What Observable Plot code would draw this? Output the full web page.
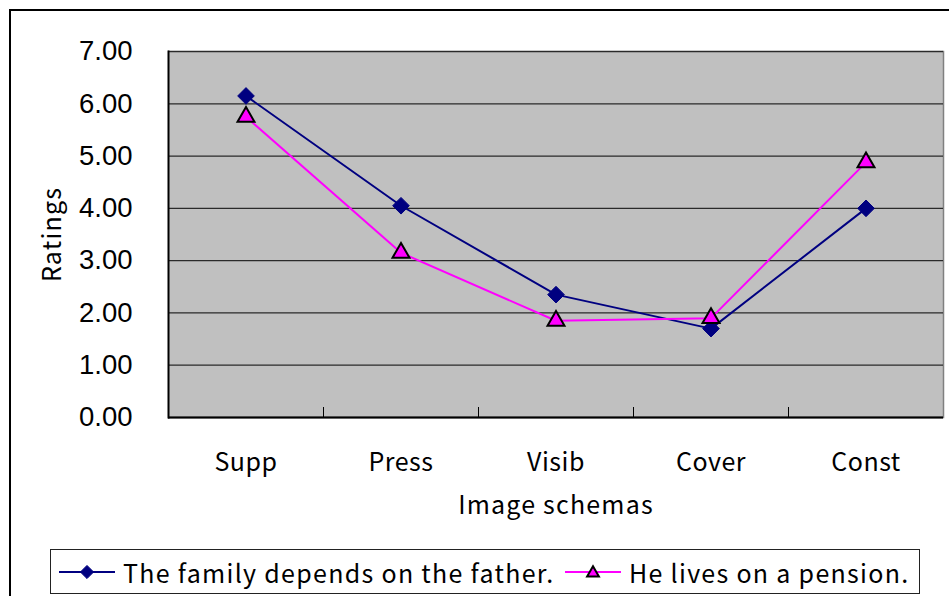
<!DOCTYPE html>
<html>
<head>
<meta charset="utf-8">
<script src="https://cdn.jsdelivr.net/npm/d3@7"></script>
<script src="https://cdn.jsdelivr.net/npm/@observablehq/plot@0.6"></script>
<style>
  html, body { margin: 0; padding: 0; background: #fff; overflow: hidden; }
  #wrap { position: relative; width: 949px; height: 596px; overflow: hidden; }
  #border { position: absolute; left: 9px; top: 9px; width: 1000px; height: 700px; border: 2px solid #000; box-sizing: border-box; }
  #chart { position: absolute; left: 0; top: 0; }
  #legend { position: absolute; left: 50px; top: 549px; width: 870px; height: 45px; border: 1px solid #222; box-sizing: border-box; background: #fff;
            font-family: "Noto Sans CJK JP", sans-serif; font-size: 25px; letter-spacing: 1.3px; color: #000; }
  .item { position: absolute; top: 0; height: 43px; display: flex; align-items: center; white-space: nowrap; }
  .item svg { margin-right: 8px; }
  #chart g[aria-label="x-axis label"] text, #chart g[aria-label="y-axis label"] text { letter-spacing: 1.2px; }
  .cjk text { letter-spacing: 0.5px; }
</style>
</head>
<body>
<div id="wrap">
  <div id="border"></div>
  <div id="chart"></div>
  <div id="legend"></div>
</div>
<script>
const categories = ["Supp", "Press", "Visib", "Cover", "Const"];
const seriesNames = ["The family depends on the father.", "He lives on a pension."];
const familyValues = [6.15, 4.05, 2.35, 1.70, 4.00];
const pensionValues = [5.75, 3.15, 1.85, 1.90, 4.88];
const yTicks = [0, 1, 2, 3, 4, 5, 6, 7];
const xTitle = "Image schemas";
const yTitle = "Ratings";

const colors = ["#000080", "#FF00FF"];

const rows = [];
categories.forEach((c, i) => {
  rows.push({cat: c, idx: i + 0.5, value: familyValues[i], series: seriesNames[0]});
  rows.push({cat: c, idx: i + 0.5, value: pensionValues[i], series: seriesNames[1]});
});
const fam = rows.filter(d => d.series === seriesNames[0]);
const pen = rows.filter(d => d.series === seriesNames[1]);
const boundaries = categories.slice(1).map((c, i) => i + 1);
const centers = categories.map((c, i) => i + 0.5);

const cjk = "'Noto Sans CJK JP', sans-serif";

const plot = Plot.plot({
  width: 949,
  height: 530,
  marginLeft: 168,
  marginRight: 6,
  marginTop: 51,
  marginBottom: 113,
  style: {background: "transparent", overflow: "visible"},
  x: {domain: [0, categories.length]},
  y: {domain: [0, 7]},
  marks: [
    Plot.frame({fill: "#c0c0c0", stroke: "none"}),
    Plot.frame({anchor: "right", stroke: "#808080", strokeWidth: 1.5}),
    Plot.ruleY(yTicks, {stroke: "#2a2a2a", strokeWidth: 1.3}),
    Plot.frame({anchor: "left", stroke: "#000", strokeWidth: 2}),
    Plot.ruleY([0], {stroke: "#000", strokeWidth: 2}),
    Plot.axisX({ticks: boundaries, tickSize: -10, tickFormat: () => "", label: null, stroke: "#000"}),
    Plot.axisY({ticks: yTicks, tickFormat: d => d.toFixed(2), tickSize: 0, tickPadding: 36,
      fontSize: 27.5, fontFamily: "'Liberation Sans', Arial, sans-serif", label: null, color: "#000"}),
    Plot.axisY({ticks: [], label: yTitle, labelAnchor: "center", labelArrow: "none", labelOffset: 125,
      fontSize: 25, fontFamily: cjk, color: "#000"}),
    Plot.axisX({ticks: centers, tickFormat: d => categories[Math.floor(d)], tickSize: 0, tickPadding: 36,
      label: xTitle, labelAnchor: "center", labelArrow: "none", labelOffset: 96,
      fontSize: 25, fontFamily: cjk, color: "#000", className: "cjk"}),
    Plot.line(fam, {x: "idx", y: "value", stroke: colors[0], strokeWidth: 2}),
    Plot.line(pen, {x: "idx", y: "value", stroke: colors[1], strokeWidth: 2}),
    Plot.dot(fam, {x: "idx", y: "value", symbol: "diamond2", fill: colors[0], stroke: colors[0], strokeWidth: 1, r: 7.5}),
    Plot.dot(pen, {x: "idx", y: "value", symbol: "triangle", fill: colors[1], stroke: "#000", strokeWidth: 2, r: 6.3})
  ]
});
document.getElementById("chart").appendChild(plot);

// legend
const legend = document.getElementById("legend");
const lefts = [8, 514];
seriesNames.forEach((name, i) => {
  const item = document.createElement("div");
  item.className = "item";
  item.style.left = lefts[i] + "px";
  const sw = d3.create("svg").attr("width", 56).attr("height", 20);
  sw.append("line").attr("x1", 0).attr("x2", 56).attr("y1", 10).attr("y2", 10)
    .attr("stroke", colors[i]).attr("stroke-width", 2);
  if (i === 0) {
    sw.append("path").attr("d", d3.symbol(d3.symbolDiamond2, 110)()).attr("transform", "translate(28,10)")
      .attr("fill", colors[0]).attr("stroke", colors[0]);
  } else {
    sw.append("path").attr("d", d3.symbol(d3.symbolTriangle, 60)()).attr("transform", "translate(28,11)")
      .attr("fill", colors[1]).attr("stroke", "#000").attr("stroke-width", 2);
  }
  item.appendChild(sw.node());
  const t = document.createElement("span");
  t.textContent = name;
  item.appendChild(t);
  legend.appendChild(item);
});
</script>
</body>
</html>
